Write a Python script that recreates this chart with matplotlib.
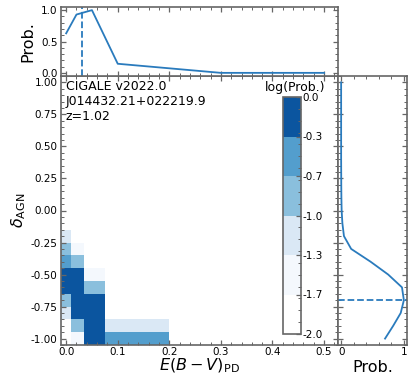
import numpy as np
import matplotlib
matplotlib.use('Agg')
from matplotlib import pyplot as plt
from matplotlib.colors import ListedColormap, BoundaryNorm
from matplotlib.ticker import MultipleLocator, FormatStrFormatter


# grid values
ebv = [0.0, 0.02, 0.05, 0.1, 0.3, 0.5]
delta = [-1.0, -0.9, -0.8, -0.7, -0.6, -0.5, -0.4, -0.3, -0.2, -0.1, 0.0,
         0.1, 0.2, 0.3, 0.4, 0.5, 0.6, 0.7, 0.8, 0.9, 1.0]

# marginal PDFs
prob_ebv = [0.63, 0.93, 1.0, 0.145, 0.0, 0.0]
prob_delta = [0.70, 0.83, 0.95, 1.0, 0.97, 0.75, 0.47, 0.16, 0.045, 0.02, 0.008,
              0.004, 0.002, 0.001, 0.0, 0.0, 0.0, 0.0, 0.0, 0.0, 0.0]
best_ebv = 0.03
best_delta = -0.70

# log(Prob.) of the joint PDF, rows = delta (from -1.0 up), cols = ebv
nan = np.nan
logp_rows = {
    -1.0: [nan, -1.50, -0.15, -0.50, nan, nan],
    -0.9: [nan, -0.85, -0.15, -1.15, nan, nan],
    -0.8: [-1.15, -0.15, -0.15, nan, nan, nan],
    -0.7: [-0.85, -0.15, -0.15, nan, nan, nan],
    -0.6: [-0.15, -0.15, -0.85, nan, nan, nan],
    -0.5: [-0.15, -0.15, -1.50, nan, nan, nan],
    -0.4: [-0.50, -0.85, nan, nan, nan, nan],
    -0.3: [-0.85, -1.50, nan, nan, nan, nan],
    -0.2: [-1.15, nan, nan, nan, nan, nan],
}

levels = [-2.0, -5/3, -4/3, -1.0, -2/3, -1/3, 0.0]
level_colors = ['#ffffff', '#f4f8fd', '#dae8f5', '#8abfdd', '#539ecd', '#0b559f']

logp = np.full((len(delta), len(ebv)), np.nan)
for i, d in enumerate(delta):
    if round(d, 1) in logp_rows:
        logp[i] = logp_rows[round(d, 1)]

# cell edges halfway between grid values
xe = np.concatenate([[ebv[0] - 0.01], (np.array(ebv[1:]) + np.array(ebv[:-1])) / 2, [ebv[-1] + 0.1]])
ye = np.concatenate([[delta[0] - 0.05], (np.array(delta[1:]) + np.array(delta[:-1])) / 2, [delta[-1] + 0.05]])

line_c = '#2a7bbd'
frame_c = '0.4'

plt.rcParams['font.family'] = 'DejaVu Sans'
plt.rcParams['xtick.direction'] = 'in'
plt.rcParams['ytick.direction'] = 'in'
plt.rcParams['xtick.color'] = frame_c
plt.rcParams['ytick.color'] = frame_c
plt.rcParams['xtick.labelcolor'] = 'black'
plt.rcParams['ytick.labelcolor'] = 'black'
plt.rcParams['xtick.labelsize'] = 7.5
plt.rcParams['ytick.labelsize'] = 7.5
plt.rcParams['xtick.major.pad'] = 1.5
plt.rcParams['ytick.major.pad'] = 2.5
plt.rcParams['axes.edgecolor'] = frame_c
plt.rcParams['axes.linewidth'] = 1.2

fig = plt.figure(figsize=(4.15, 3.84), dpi=100)
W, H = 415, 384


def box(l, t, r, b):
    return [l / W, 1 - b / H, (r - l) / W, (b - t) / H]


ax = fig.add_axes(box(61, 76, 338, 345))
ax_top = fig.add_axes(box(61, 7, 338, 76))
ax_right = fig.add_axes(box(338, 76, 407, 345))
cax = fig.add_axes(box(283, 97, 301, 334))

for a in (ax, ax_top, ax_right):
    a.tick_params(which='both', top=True, right=True)
    a.tick_params(which='major', length=3.5, width=0.9)
    a.tick_params(which='minor', length=2, width=0.7)

# joint PDF
cmap = ListedColormap(level_colors)
norm = BoundaryNorm(levels, cmap.N)
mesh = ax.pcolormesh(xe, ye, np.ma.masked_invalid(logp), cmap=cmap, norm=norm)
ax.set_xlim(-0.01, 0.527)
ax.set_ylim(-1.05, 1.05)
ax.xaxis.set_major_locator(MultipleLocator(0.1))
ax.xaxis.set_minor_locator(MultipleLocator(0.02))
ax.yaxis.set_major_locator(MultipleLocator(0.25))
ax.yaxis.set_minor_locator(MultipleLocator(0.05))
ax.xaxis.set_major_formatter(FormatStrFormatter('%.1f'))
ax.yaxis.set_major_formatter(FormatStrFormatter('%.2f'))
ax.set_xlabel(r'$E(B-V)_{\rm PD}$', fontsize=11.5, labelpad=0)
ax.set_ylabel(r'$\delta_{\rm AGN}$', fontsize=11.5, labelpad=2)
ax.text(0.018, 0.985, 'CIGALE v2022.0\nJ014432.21+022219.9\nz=1.02',
        transform=ax.transAxes, ha='left', va='top', fontsize=9)

# colorbar
cb = fig.colorbar(mesh, cax=cax, ticks=levels)
cb.ax.yaxis.set_major_formatter(FormatStrFormatter('%.1f'))
cb.ax.yaxis.set_minor_locator(MultipleLocator(0.1))
cb.ax.tick_params(which='major', length=3.5, width=0.9, pad=1)
cb.ax.tick_params(which='minor', length=2, width=0.7)
cb.outline.set_edgecolor(frame_c)
cb.outline.set_linewidth(1.2)
fig.text(295.5 / W, 1 - 93.5 / H, 'log(Prob.)', ha='center', va='bottom', fontsize=9)

# top marginal
ax_top.plot(ebv, prob_ebv, color=line_c, lw=1.3)
ax_top.axvline(best_ebv, color=line_c, lw=1.3, ls='--')
ax_top.set_xlim(ax.get_xlim())
ax_top.set_ylim(-0.05, 1.05)
ax_top.xaxis.set_major_locator(MultipleLocator(0.1))
ax_top.xaxis.set_minor_locator(MultipleLocator(0.02))
ax_top.yaxis.set_major_locator(MultipleLocator(0.5))
ax_top.yaxis.set_minor_locator(MultipleLocator(0.1))
ax_top.yaxis.set_major_formatter(FormatStrFormatter('%.1f'))
ax_top.set_xticklabels([])
ax_top.set_ylabel('Prob.', fontsize=11.5, labelpad=4)

# right marginal
ax_right.plot(prob_delta, delta, color=line_c, lw=1.3)
ax_right.axhline(best_delta, color=line_c, lw=1.3, ls='--')
ax_right.set_ylim(ax.get_ylim())
ax_right.set_xlim(-0.05, 1.05)
ax_right.xaxis.set_major_locator(MultipleLocator(1))
ax_right.xaxis.set_minor_locator(MultipleLocator(0.2))
ax_right.yaxis.set_major_locator(MultipleLocator(0.25))
ax_right.yaxis.set_minor_locator(MultipleLocator(0.05))
ax_right.set_yticklabels([])
ax_right.set_xlabel('Prob.', fontsize=11.5, labelpad=2)

fig.savefig('out.png', dpi=100)
